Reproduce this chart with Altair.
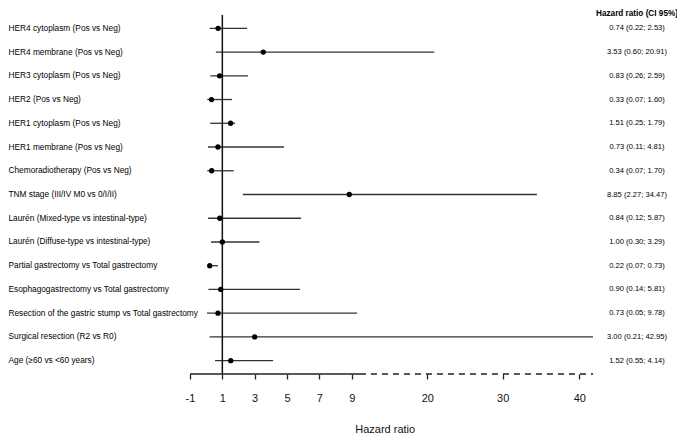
import altair as alt
import pandas as pd

labels = [
    "HER4 cytoplasm (Pos vs Neg)",
    "HER4 membrane (Pos vs Neg)",
    "HER3 cytoplasm (Pos vs Neg)",
    "HER2 (Pos vs Neg)",
    "HER1 cytoplasm (Pos vs Neg)",
    "HER1 membrane (Pos vs Neg)",
    "Chemoradiotherapy (Pos vs Neg)",
    "TNM stage (III/IV M0 vs 0/I/II)",
    "Laurén (Mixed-type vs intestinal-type)",
    "Laurén (Diffuse-type vs intestinal-type)",
    "Partial gastrectomy vs Total gastrectomy",
    "Esophagogastrectomy vs Total gastrectomy",
    "Resection of the gastric stump vs Total gastrectomy",
    "Surgical resection (R2 vs R0)",
    "Age (≥60 vs <60 years)",
]
hr = [0.74, 3.53, 0.83, 0.33, 1.51, 0.73, 0.34, 8.85, 0.84, 1.00, 0.22, 0.90, 0.73, 3.00, 1.52]
lo = [0.22, 0.60, 0.26, 0.07, 0.25, 0.11, 0.07, 2.27, 0.12, 0.30, 0.07, 0.14, 0.05, 0.21, 0.55]
hi = [2.53, 20.91, 2.59, 1.60, 1.79, 4.81, 1.70, 34.47, 5.87, 3.29, 0.73, 5.81, 9.78, 42.95, 4.14]

tick_values = [-1, 1, 3, 5, 7, 9, 20, 30, 40]
scale_domain = [-1, 9, 20, 30, 40]
axis_solid = [-1, 10.2]
axis_dashed = [10.2, 41.8]
ref_value = 1

W, H = 403, 359
FONT = "Liberation Sans"
TXT_X = 447

df = pd.DataFrame({
    "label": labels,
    "hr": hr,
    "lo": lo,
    "hi": hi,
    "txt": [f"{h:.2f} ({l:.2f}; {u:.2f})" for h, l, u in zip(hr, lo, hi)],
})

xscale = alt.Scale(domain=scale_domain, range=[0, 161.7, 237.3, 312.7, 389.3],
                   zero=False, nice=False)
yscale = alt.Scale(type="point", padding=0.56)
ysort = labels

xaxis = alt.Axis(values=tick_values, title="Hazard ratio", domain=False,
                 grid=False, tickSize=5, tickColor="#222222", tickWidth=1.3,
                 labelFontSize=11, labelPadding=13, labelFlush=False,
                 labelOverlap=False, labelExpr="'' + datum.value",
                 labelFont=FONT, labelColor="#111111",
                 titleFont=FONT, titleFontSize=11, titleFontWeight="normal",
                 titleColor="#111111", titlePadding=20)
yaxis = alt.Axis(title=None, domain=False, ticks=False, tickSize=0,
                 labelAlign="left", labelPadding=182, labelLimit=400,
                 labelFont=FONT, labelFontSize=8.3, labelColor="#000000",
                 grid=False)

base = alt.Chart(df)

ci = base.mark_rule(color="#333333", strokeWidth=1.3, clip=True).encode(
    x=alt.X("lo:Q", scale=xscale, axis=xaxis),
    x2="hi:Q",
    y=alt.Y("label:N", sort=ysort, scale=yscale, axis=yaxis),
)

pts = base.mark_circle(color="black", size=28, opacity=1).encode(
    x=alt.X("hr:Q", scale=xscale, axis=xaxis),
    y=alt.Y("label:N", sort=ysort, scale=yscale, axis=yaxis),
)

vals = base.mark_text(font=FONT, fontSize=7.6, color="#000000", align="center",
                      baseline="middle").encode(
    x=alt.value(TXT_X),
    y=alt.Y("label:N", sort=ysort, scale=yscale, axis=yaxis),
    text="txt:N",
)

header = alt.Chart(pd.DataFrame({"t": ["Hazard ratio (CI 95%)"]})).mark_text(
    font=FONT, fontSize=8.2, fontWeight="bold", color="#000000",
    align="center", baseline="middle").encode(
    x=alt.value(TXT_X), y=alt.value(-1), text="t:N")

ref = alt.Chart(pd.DataFrame({"v": [ref_value]})).mark_rule(
    color="#111111", strokeWidth=1.5).encode(
    x=alt.X("v:Q", scale=xscale, axis=xaxis), y=alt.value(0), y2=alt.value(H))

ax_solid = alt.Chart(pd.DataFrame({"a": [axis_solid[0]], "b": [axis_solid[1]]})).mark_rule(
    color="#222222", strokeWidth=1.3).encode(
    x=alt.X("a:Q", scale=xscale, axis=xaxis), x2="b:Q", y=alt.value(H))

ax_dash = alt.Chart(pd.DataFrame({"a": [axis_dashed[0]], "b": [axis_dashed[1]]})).mark_rule(
    color="#222222", strokeWidth=1.3, strokeDash=[6, 5]).encode(
    x=alt.X("a:Q", scale=xscale, axis=xaxis), x2="b:Q", y=alt.value(H))

chart = alt.layer(ci, ref, ax_solid, ax_dash, pts, vals, header).properties(
    width=W, height=H,
    autosize=alt.AutoSizeParams(type="none"),
    padding={"left": 182, "top": 7, "right": 84, "bottom": 59},
).configure_view(stroke=None).configure_axis(domain=False, grid=False)

chart.save("out.html", embed_options={"renderer": "svg", "actions": False})
